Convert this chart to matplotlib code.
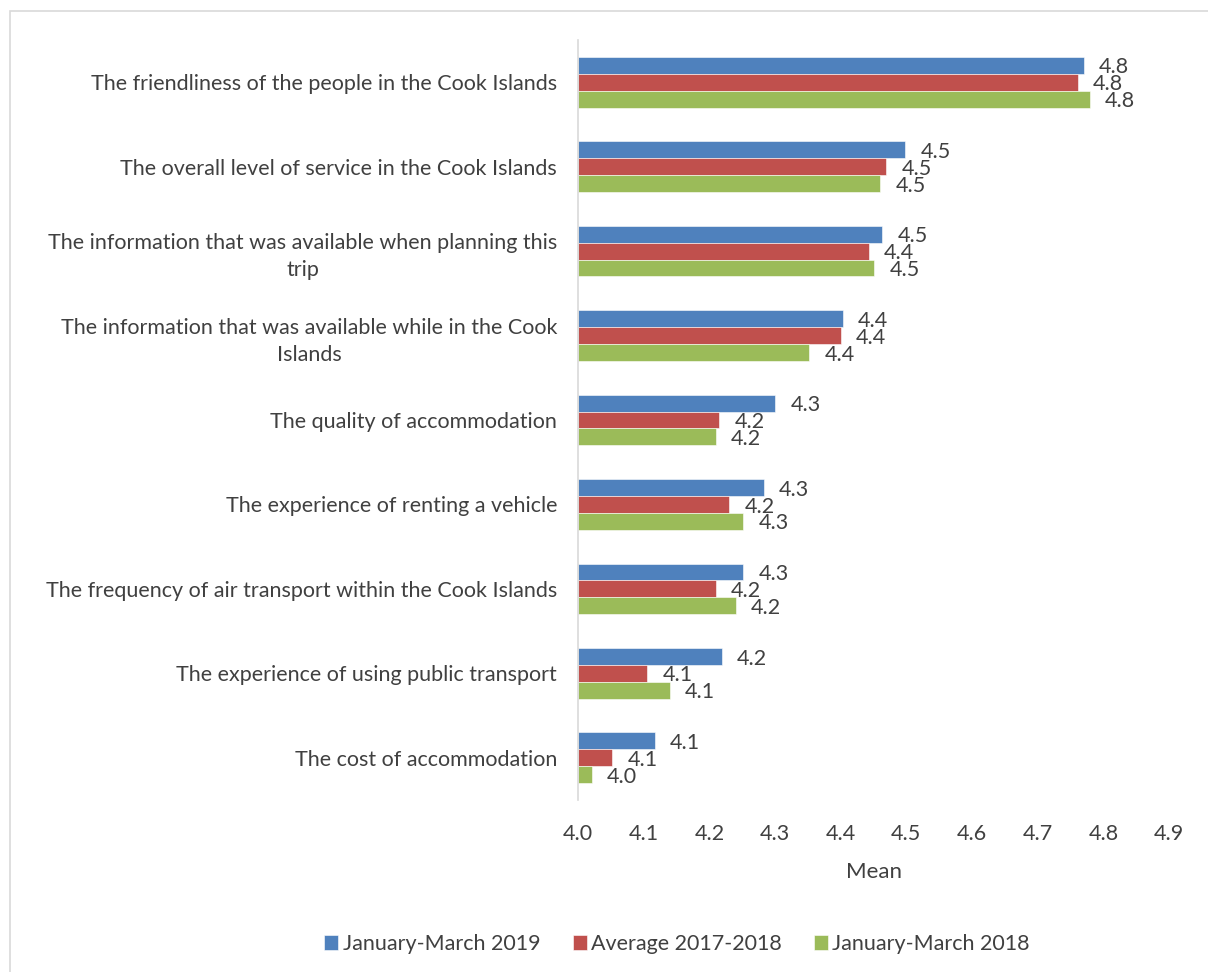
import matplotlib.pyplot as plt
import numpy as np
from matplotlib.patches import Rectangle

plt.rcParams['font.family'] = ['Lato', 'DejaVu Sans']

categories = [
    "The friendliness of the people in the Cook Islands",
    "The overall level of service in the Cook Islands",
    "The information that was available when planning this\ntrip",
    "The information that was available while in the Cook\nIslands",
    "The quality of accommodation",
    "The experience of renting a vehicle",
    "The frequency of air transport within the Cook Islands",
    "The experience of using public transport",
    "The cost of accommodation",
]
jan_mar_2019 = [4.77, 4.498, 4.463, 4.403, 4.30, 4.283, 4.252, 4.219, 4.117]
avg_2017_2018 = [4.761, 4.469, 4.443, 4.40, 4.215, 4.23, 4.21, 4.105, 4.052]
jan_mar_2018 = [4.779, 4.46, 4.451, 4.352, 4.21, 4.252, 4.24, 4.14, 4.021]
series_names = ["January-March 2019", "Average 2017-2018", "January-March 2018"]
colors = ["#4F81BD", "#C0504D", "#9BBB59"]
text_col = "#404040"

fig = plt.figure(figsize=(12.08, 9.72), dpi=100)
ax = fig.add_axes([0.4785, 0.177, 0.4892, 0.7818])

# light outer frame
fig.patches.append(Rectangle((10 / 1208, -0.01), 1.02, 1 - 11 / 972 + 0.01,
                             transform=fig.transFigure, fill=False,
                             edgecolor="#d9d9d9", linewidth=1.2))

y = np.arange(len(categories))
h = 0.2
base = 4.0
for i, (vals, name, col) in enumerate(zip([jan_mar_2019, avg_2017_2018, jan_mar_2018], series_names, colors)):
    ypos = y + (i - 1) * h
    widths = np.array(vals) - base
    ax.barh(ypos, widths, left=base, height=h, color=col, label=name,
            edgecolor="white", linewidth=0.4)
    for yy, v in zip(ypos, vals):
        ax.annotate(f"{v:.1f}", (v, yy), xytext=(11, -1.5), textcoords="offset points",
                    ha="left", va="center", fontsize=15.5, color=text_col)

ax.set_xlim(4.0, 4.9)
ax.set_ylim(len(categories) - 0.5, -0.5)
ax.set_xticks(np.arange(4.0, 4.91, 0.1))
ax.set_xticklabels([f"{t:.1f}" for t in np.arange(4.0, 4.91, 0.1)])
ax.set_yticks(y)
ax.set_yticklabels(categories, multialignment="center", linespacing=1.45)
ax.tick_params(axis="both", length=0, labelsize=15.5, labelcolor=text_col)
ax.tick_params(axis="y", pad=15)
ax.tick_params(axis="x", pad=17)
ax.set_xlabel("Mean", fontsize=16, color=text_col, labelpad=13)

for s in ["top", "right", "bottom"]:
    ax.spines[s].set_visible(False)
ax.spines["left"].set_color("#d9d9d9")
ax.spines["left"].set_linewidth(1.2)

leg = fig.legend(loc="center", bbox_to_anchor=(677 / 1208, 1 - 944 / 972), ncol=3,
                 frameon=False, fontsize=15.5, handlelength=0.65, handleheight=0.65,
                 handletextpad=0.2, columnspacing=1.5)
for t in leg.get_texts():
    t.set_color(text_col)

fig.savefig("out.png", dpi=100, facecolor="white")
